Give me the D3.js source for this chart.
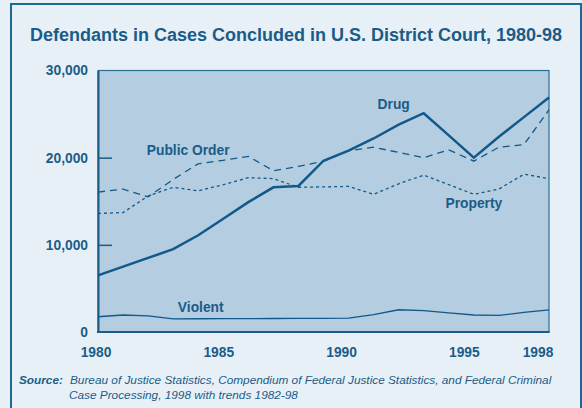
<!DOCTYPE html>
<html>
<head>
<meta charset="utf-8">
<script src="https://cdn.jsdelivr.net/npm/d3@7"></script>
<style>
  body { margin: 0; background: #e8f0f7; }
  svg { display: block; font-family: "Liberation Sans", Arial, sans-serif; }
</style>
</head>
<body>
<svg id="chart"></svg>
<script>
// data
const years = [1980, 1981, 1982, 1983, 1984, 1985, 1986, 1987, 1988, 1989,
  1990, 1991, 1992, 1993, 1994, 1995, 1996, 1997, 1998];
const drug = [6500, 7500, 8500, 9500, 11100, 13000, 14900, 16600, 16750, 19650,
  20800, 22200, 23800, 25100, 22550, 20000, 22400, 24650, 26900];
const publicOrder = [16050, 16400, 15500, 17500, 19300, 19700, 20150, 18500, 19000, 19600,
  20800, 21200, 20600, 20000, 20900, 19600, 21200, 21500, 25500];
const property = [13600, 13700, 15600, 16600, 16200, 16900, 17700, 17600, 16600, 16650,
  16700, 15800, 17000, 18000, 16900, 15800, 16400, 18100, 17600];
const violent = [1750, 1950, 1850, 1500, 1520, 1530, 1540, 1550, 1560, 1570,
  1600, 2000, 2550, 2450, 2200, 1950, 1900, 2250, 2550];
const yTicks = [0, 10000, 20000, 30000];
const xTicks = [1980, 1985, 1990, 1995, 1998];

const W = 582, H = 408;
const ink = '#1a5c87';

const svg = d3.select('#chart')
  .attr('width', W)
  .attr('height', H);

svg.append('rect')
  .attr('width', W).attr('height', H)
  .attr('fill', '#e8f0f7');

// outer frame
svg.append('rect')
  .attr('x', 11).attr('y', 4)
  .attr('width', 570).attr('height', 430)
  .attr('fill', 'none')
  .attr('stroke', '#1d6894')
  .attr('stroke-width', 2);

svg.append('text')
  .attr('x', 296).attr('y', 41)
  .attr('text-anchor', 'middle')
  .attr('fill', ink)
  .style('font-size', '18px')
  .style('font-weight', 'bold')
  .text('Defendants in Cases Concluded in U.S. District Court, 1980-98');

const x = d3.scaleLinear()
  .domain([1980, 1998])
  .range([98, 549]);

// year labels sit a little left of the data positions in the original
const xLabel = x.copy().range([95.5, 537.5]);

const y = d3.scaleLinear()
  .domain([0, 30000])
  .range([332, 70.5]);

svg.append('rect')
  .attr('x', x(1980)).attr('y', y(30000))
  .attr('width', x(1998) - x(1980))
  .attr('height', y(0) - y(30000))
  .attr('fill', '#b5cde0')
  .attr('stroke', '#2a6d96')
  .attr('stroke-width', 1.2);

const yAxis = svg.append('g')
  .attr('transform', 'translate(' + x(1980) + ',0)')
  .call(d3.axisLeft(y)
    .tickValues(yTicks)
    .tickSizeInner(-14)
    .tickSizeOuter(0)
    .tickPadding(10)
    .tickFormat(d3.format(',')));

yAxis.select('.domain').attr('stroke', ink).attr('stroke-width', 2);
yAxis.selectAll('.tick line')
  .attr('stroke', ink)
  .attr('stroke-width', 1.5)
  .attr('display', (d) => (d === 0 || d === 30000) ? 'none' : null);
yAxis.selectAll('.tick text')
  .attr('fill', ink)
  .style('font-size', '13.8px')
  .style('font-weight', 'bold')
  .style('font-family', '"Liberation Sans", Arial, sans-serif');

svg.append('line')
  .attr('x1', x(1980) - 1).attr('x2', x(1998) + 0.5)
  .attr('y1', y(0)).attr('y2', y(0))
  .attr('stroke', ink)
  .attr('stroke-width', 2);

const xAxis = svg.append('g')
  .attr('transform', 'translate(0,' + y(0) + ')')
  .call(d3.axisBottom(xLabel)
    .tickValues(xTicks)
    .tickSize(0)
    .tickPadding(15)
    .tickFormat(d3.format('d')));

xAxis.select('.domain').remove();
xAxis.selectAll('.tick text')
  .attr('fill', ink)
  .style('font-size', '13.8px')
  .style('font-weight', 'bold')
  .style('font-family', '"Liberation Sans", Arial, sans-serif');

const series = [
  { name: 'Violent', values: violent, width: 1.3, dash: null },
  { name: 'Property', values: property, width: 1.3, dash: '3,3' },
  { name: 'Public Order', values: publicOrder, width: 1.3, dash: '7,5' },
  { name: 'Drug', values: drug, width: 2.5, dash: null }
];

const line = d3.line()
  .x((d, i) => x(years[i]))
  .y((d) => y(d));

svg.append('g')
  .attr('class', 'lines')
  .selectAll('path')
  .data(series)
  .enter()
  .append('path')
  .attr('d', (s) => line(s.values))
  .attr('fill', 'none')
  .attr('stroke', '#10598a')
  .attr('stroke-width', (s) => s.width)
  .attr('stroke-dasharray', (s) => s.dash)
  .attr('stroke-linejoin', 'miter');

// series names, anchored in data units
const seriesLabels = [
  { text: 'Drug', year: 1991.8, value: 25600 },
  { text: 'Public Order', year: 1983.6, value: 20350 },
  { text: 'Property', year: 1995.0, value: 14200 },
  { text: 'Violent', year: 1984.1, value: 2300 }
];

svg.append('g')
  .selectAll('text')
  .data(seriesLabels)
  .enter()
  .append('text')
  .attr('x', (d) => x(d.year))
  .attr('y', (d) => y(d.value))
  .attr('text-anchor', 'middle')
  .attr('fill', ink)
  .style('font-size', '13.8px')
  .style('font-weight', 'bold')
  .text((d) => d.text);

const src = svg.append('g')
  .attr('fill', ink)
  .style('font-size', '11.8px')
  .style('font-style', 'italic');

src.append('text')
  .attr('x', 19).attr('y', 384)
  .style('font-weight', 'bold')
  .text('Source:');

src.append('text')
  .attr('x', 70).attr('y', 384)
  .text('Bureau of Justice Statistics, Compendium of Federal Justice Statistics, and Federal Criminal');

src.append('text')
  .attr('x', 69).attr('y', 399)
  .text('Case Processing, 1998 with trends 1982-98');
</script>
</body>
</html>
